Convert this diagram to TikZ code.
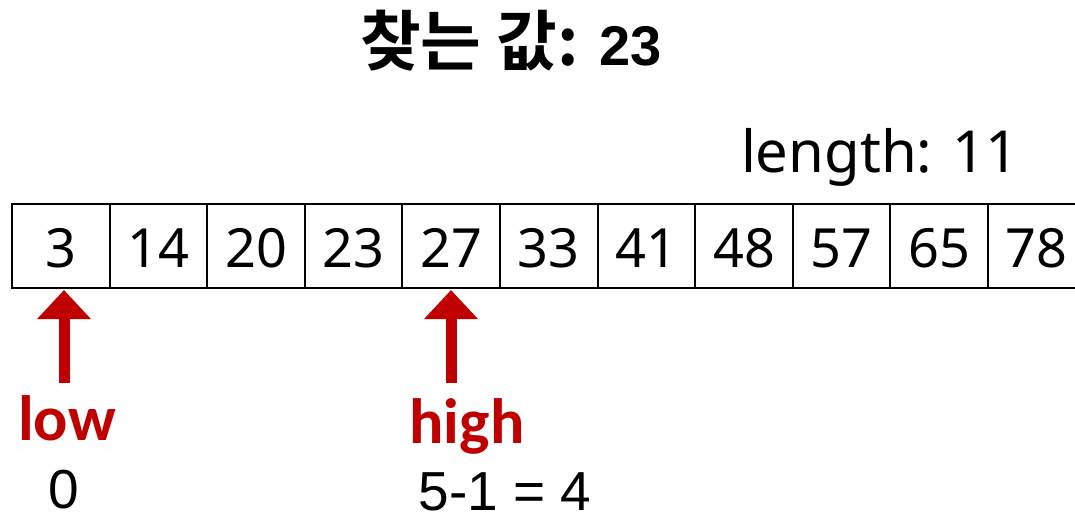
\documentclass[tikz,border=0pt]{standalone}
\usepackage{fontspec}
\setmainfont{Noto Sans}
\newfontfamily\krfont{Noto Sans CJK KR}[BoldFont={Noto Sans CJK KR Bold}]
\newfontfamily\arialfont{Liberation Sans}
\newfontfamily\labelfont{Carlito}
\usetikzlibrary{arrows.meta,positioning}
\definecolor{ptrred}{RGB}{192,0,0}

\begin{document}
\begin{tikzpicture}[
    x=1pt, y=-1pt,
    cell/.style={
        rectangle,
        draw=black,
        line width=2pt,
        minimum width=97.6pt,
        minimum height=84pt,
        inner sep=0pt,
        text height=42pt,
        text depth=0pt,
        font=\fontsize{54}{60}\selectfont
    },
    pointer/.style={
        -{Triangle[width=52pt,length=29pt]},
        draw=ptrred,
        line width=11pt
    },
    ptrlabel/.style={
        anchor=base,
        text=ptrred,
        font=\labelfont\bfseries\fontsize{64}{70}\selectfont
    },
    idx/.style={
        anchor=base,
        inner sep=0pt,
        font=\arialfont\fontsize{55}{60}\selectfont
    }
]
\path[use as bounding box, clip] (0,0) rectangle (1075,517);

\node[anchor=base] (title) at (511,65)
    {{\krfont\bfseries\fontsize{66}{70}\selectfont 찾는 값:}{\arialfont\bfseries\fontsize{56}{60}\selectfont{} 23}};
\node[anchor=base, font=\fontsize{58}{62}\selectfont] (len) at (880,172) {length: 11};

% the array
\foreach \v [count=\i from 0] in {3,14,20,23,27,33,41,48,57,65,78}
    \node[cell] (c\i) at ({60.8+97.6*\i},246) {\v};

% pointers
\coordinate (lowtail) at (64,383);
\coordinate (hightail) at (451,383);
\draw[pointer] (lowtail) -- (lowtail |- 0,290);
\draw[pointer] (hightail) -- (hightail |- 0,290);

\node[ptrlabel] (low) at (67,440) {low};
\node[ptrlabel] (high) at (467,443) {high};
\node[idx] (lowval) at (64,508) {0};
\node[idx] (highval) at (505,510) {5-1 = 4};

\end{tikzpicture}
\end{document}
